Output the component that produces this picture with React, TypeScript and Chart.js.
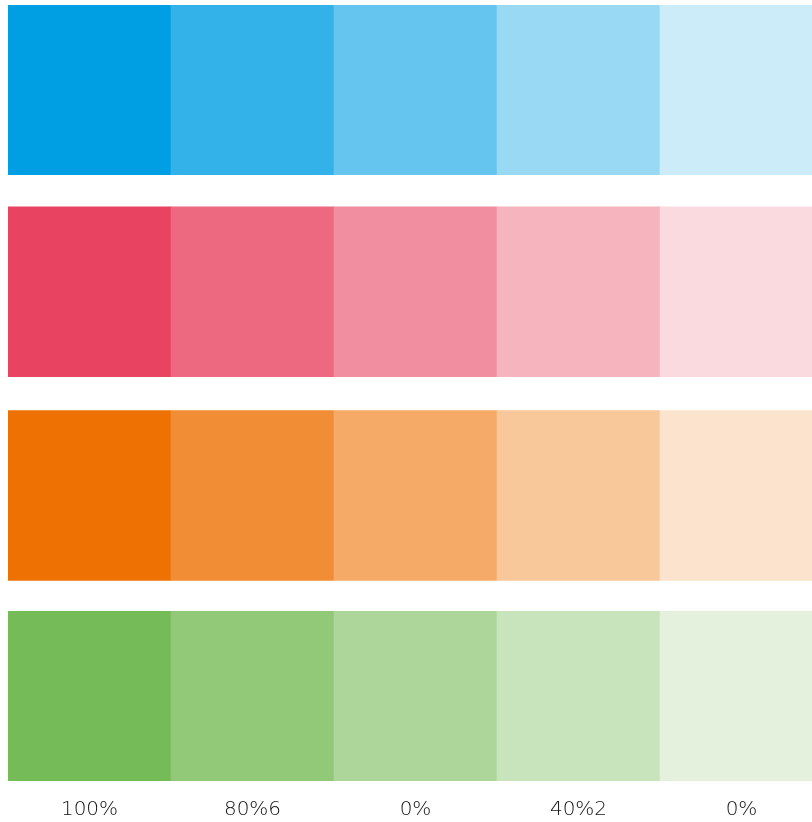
import React, { useEffect, useRef } from "react";
import { Chart, registerables } from "chart.js";

Chart.register(...registerables);

// Column categories (tick labels as printed)
const categories: string[] = ["100%", "80%6", "0%", "40%2", "0%"];
// Tint strength for each column (opacity over white)
const tintLevels: number[] = [1, 0.8, 0.6, 0.4, 0.2];
// Rows (top to bottom): name, base colour, value range
const rowNames: string[] = ["Blue", "Red", "Orange", "Green"];
const rowBaseColors: number[][] = [
  [0, 159, 227],
  [232, 67, 96],
  [238, 114, 3],
  [117, 187, 87],
];
const rowLow: number[] = [3.571, 2.382, 1.182, 0];
const rowHigh: number[] = [4.571, 3.382, 2.182, 1];
const yMin = 0;
const yMax = 4.571;

export default function App() {
  const ref = useRef<HTMLCanvasElement | null>(null);

  useEffect(() => {
    if (!ref.current) return;
    const datasets = rowNames.map((name, r) => ({
      label: name,
      data: categories.map(() => [rowLow[r], rowHigh[r]] as [number, number]),
      backgroundColor: tintLevels.map((t) => {
        const [cr, cg, cb] = rowBaseColors[r];
        const mix = (c: number) => Math.round(c + (255 - c) * (1 - t));
        return `rgb(${mix(cr)}, ${mix(cg)}, ${mix(cb)})`;
      }),
      borderWidth: 0,
      barPercentage: 1,
      categoryPercentage: 1,
      grouped: false,
    }));

    const chart = new Chart(ref.current, {
      type: "bar",
      data: { labels: categories, datasets },
      options: {
        animation: false,
        responsive: false,
        devicePixelRatio: window.devicePixelRatio || 1,
        layout: { padding: 0 },
        plugins: { legend: { display: false }, tooltip: { enabled: false } },
        scales: {
          x: {
            grid: { display: false, drawTicks: false },
            border: { display: false },
            ticks: {
              padding: 17,
              color: "#111111",
              font: { family: "'DejaVu Sans', 'Open Sans', sans-serif", size: 20, weight: 200 },
            },
          },
          y: {
            display: false,
            min: yMin,
            max: yMax,
          },
        },
      },
    });
    return () => chart.destroy();
  }, []);

  return (
    <div
      style={{
        position: "absolute",
        left: 8,
        top: 5,
        width: 804,
        height: 817,
        overflow: "hidden",
      }}
    >
      <canvas ref={ref} width={815} height={834} style={{ width: 815, height: 834, display: "block" }} />
    </div>
  );
}
